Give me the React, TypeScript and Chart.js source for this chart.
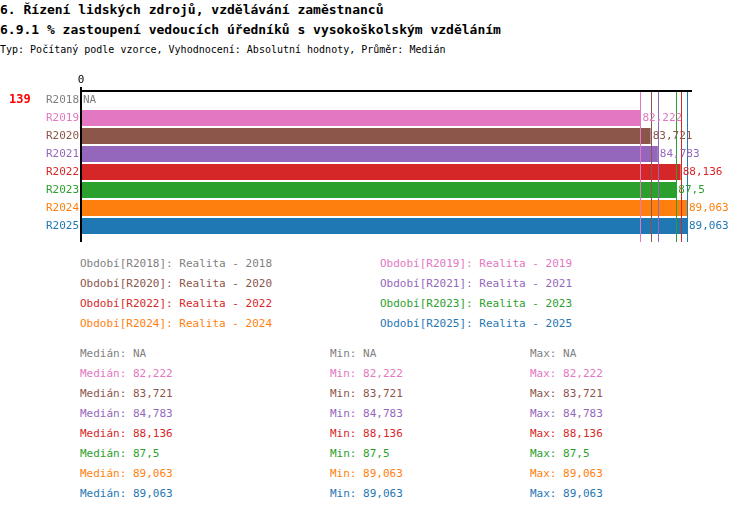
import React, { useEffect, useRef } from "react";
import { Chart, registerables } from "chart.js";
Chart.register(...registerables);

const categories = ["R2018", "R2019", "R2020", "R2021", "R2022", "R2023", "R2024", "R2025"];
const values: (number | null)[] = [null, 82.222, 83.721, 84.783, 88.136, 87.5, 89.063, 89.063];
const labels = ["NA", "82,222", "83,721", "84,783", "88,136", "87,5", "89,063", "89,063"];
const colors = ["#7f7f7f", "#e377c2", "#8c564b", "#9467bd", "#d62728", "#2ca02c", "#ff7f0e", "#1f77b4"];
const years = ["2018", "2019", "2020", "2021", "2022", "2023", "2024", "2025"];

const FONT = "'DejaVu Sans Mono', monospace";

export default function App() {
  const ref = useRef<HTMLCanvasElement>(null);
  useEffect(() => {
    const plugin = {
      id: "custom",
      afterDatasetsDraw(chart: any) {
        const ctx = chart.ctx;
        const x = chart.scales.x;
        const y = chart.scales.y;
        const a = chart.chartArea;
        ctx.save();
        // mean lines
        values.forEach((v, i) => {
          if (v == null) return;
          const px = Math.round(x.getPixelForValue(v)) + 0.5;
          ctx.strokeStyle = colors[i];
          ctx.lineWidth = 1;
          ctx.beginPath();
          ctx.moveTo(px, a.top);
          ctx.lineTo(px, a.bottom + 7);
          ctx.stroke();
        });
        // axes
        ctx.strokeStyle = "#000";
        ctx.lineWidth = 2;
        ctx.beginPath();
        ctx.moveTo(a.left, a.top);
        ctx.lineTo(x.getPixelForValue(89.8), a.top);
        ctx.moveTo(a.left, a.top - 4);
        ctx.lineTo(a.left, a.bottom + 7);
        ctx.stroke();
        ctx.font = "11px " + FONT;
        ctx.fillStyle = "#000";
        ctx.textAlign = "center";
        ctx.textBaseline = "middle";
        ctx.fillText("0", a.left, a.top - 11);
        categories.forEach((c, i) => {
          const py = y.getPixelForValue(i);
          ctx.fillStyle = colors[i];
          ctx.textAlign = "right";
          ctx.fillText(c, a.left - 2, py);
          ctx.textAlign = "left";
          const v = values[i];
          const px = v == null ? a.left + 2 : x.getPixelForValue(v) + 2;
          ctx.fillText(labels[i], px, py);
        });
        ctx.fillStyle = "#ff0000";
        ctx.font = "bold 12px " + FONT;
        ctx.textAlign = "left";
        ctx.fillText("139", 9, y.getPixelForValue(0));
        ctx.restore();
      },
    };
    const chart = new Chart(ref.current!, {
      type: "bar",
      data: {
        labels: categories,
        datasets: [
          {
            data: values as any,
            backgroundColor: colors,
            barPercentage: 0.9,
            categoryPercentage: 1,
          },
        ],
      },
      options: {
        indexAxis: "y",
        animation: false,
        responsive: false,
        layout: { padding: { left: 81, right: 58, top: 21, bottom: 10 } },
        scales: {
          x: { display: false, min: 0, max: 89.8 },
          y: { display: false },
        },
        plugins: { legend: { display: false }, tooltip: { enabled: false } },
      },
      plugins: [plugin],
    });
    return () => chart.destroy();
  }, []);

  const txt = (s: string, x: number, y: number, color: string, extra: any = {}) => (
    <div key={s + x + y} style={{ position: "absolute", left: x, top: y, color, whiteSpace: "pre", lineHeight: "14px", ...extra }}>
      {s}
    </div>
  );

  const legendItems: any[] = [];
  categories.forEach((c, i) => {
    const col = i % 2;
    const row = Math.floor(i / 2);
    legendItems.push(txt(`Období[${c}]: Realita - ${years[i]}`, col === 0 ? 80 : 380, 257 + row * 20, colors[i]));
  });
  const stats: any[] = [];
  categories.forEach((c, i) => {
    const y = 347 + i * 20;
    stats.push(txt(`Medián: ${labels[i]}`, 80, y, colors[i]));
    stats.push(txt(`Min: ${labels[i]}`, 330, y, colors[i]));
    stats.push(txt(`Max: ${labels[i]}`, 530, y, colors[i]));
  });

  return (
    <div style={{ position: "absolute", left: 0, top: 0, width: 750, height: 512, background: "#fff", fontFamily: FONT, fontSize: 11 }}>
      {txt("6. Řízení lidských zdrojů, vzdělávání zaměstnanců", 0, 2, "#000", { fontWeight: "bold", fontSize: 13, lineHeight: "16px" })}
      {txt("6.9.1 % zastoupení vedoucích úředníků s vysokoškolským vzděláním", 0, 22, "#000", { fontWeight: "bold", fontSize: 13, lineHeight: "16px" })}
      {txt("Typ: Počítaný podle vzorce, Vyhodnocení: Absolutní hodnoty, Průměr: Medián", 0, 43, "#000", { fontSize: 10 })}
      <canvas ref={ref} width={750} height={175} style={{ position: "absolute", left: 0, top: 70 }} />
      {legendItems}
      {stats}
    </div>
  );
}
